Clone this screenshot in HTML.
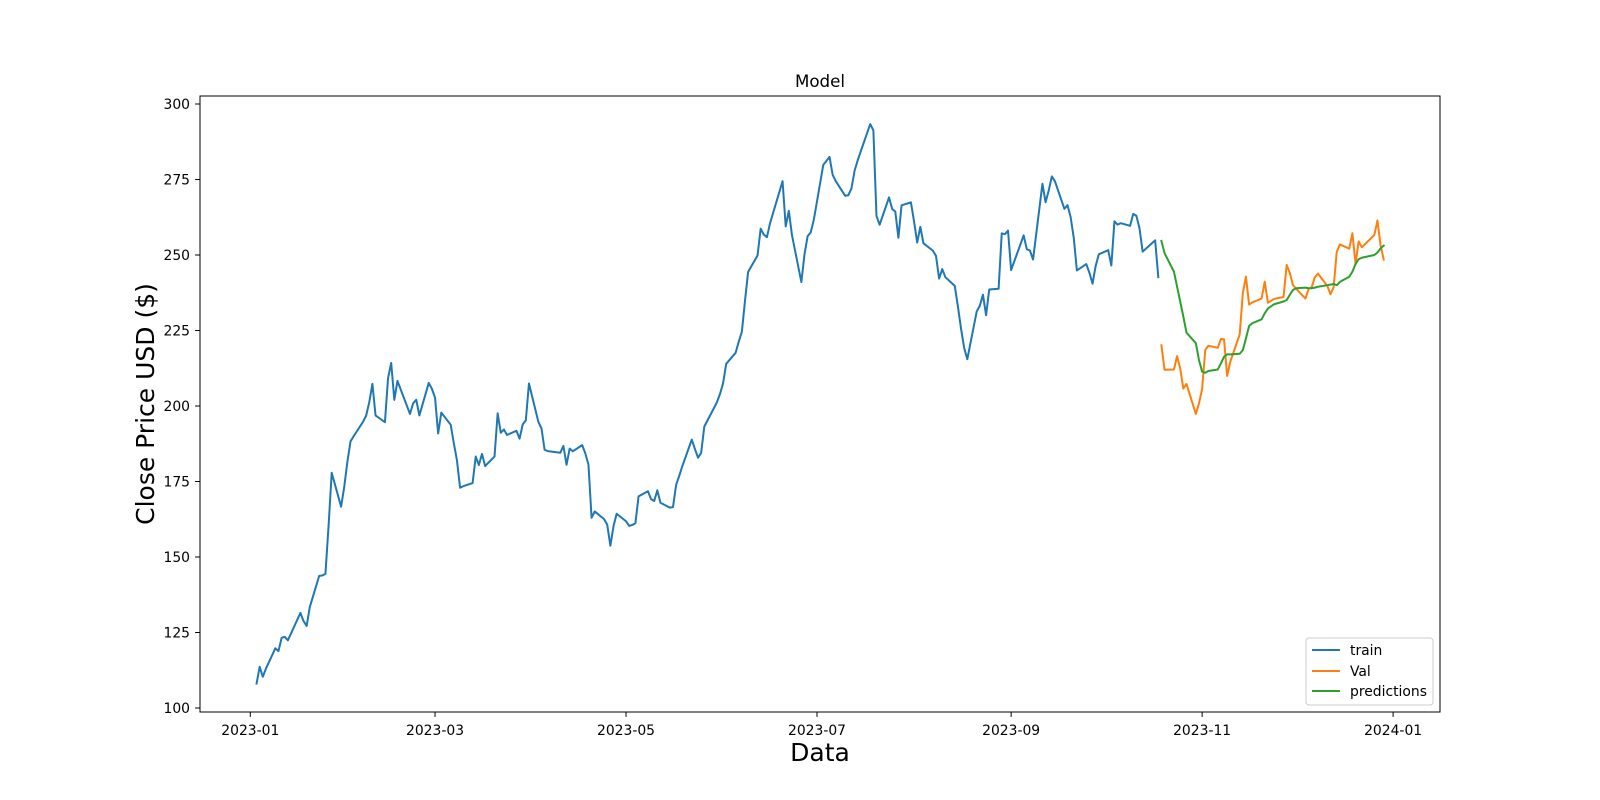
<!DOCTYPE html>
<html><head><meta charset="utf-8"><style>
html,body{margin:0;padding:0;background:#fff;}
svg{display:block;font-family:"DejaVu Sans","Liberation Sans",sans-serif;}
</style></head><body>
<svg id="chart" width="1600" height="800" viewBox="0 0 1600 800" xmlns="http://www.w3.org/2000/svg">
<rect x="0" y="0" width="1600" height="800" fill="#fff"/>
<g id="plot"></g>
<rect x="200" y="96" width="1240" height="616" fill="none" stroke="#000" stroke-width="1"/>
<g id="axes"></g>
<text x="820" y="87" text-anchor="middle" font-size="16.7">Model</text>
<text x="820" y="761" text-anchor="middle" font-size="25">Data</text>
<text transform="translate(154,404) rotate(-90)" text-anchor="middle" font-size="25">Close Price USD ($)</text>
<g>
<rect x="1306" y="638" width="127" height="67" rx="3" fill="#fff" fill-opacity="0.8" stroke="#ccc" stroke-width="1"/>
<line x1="1312" y1="650" x2="1340" y2="650" stroke="#1f77b4" stroke-width="2"/>
<text x="1350" y="655" font-size="13.9">train</text>
<line x1="1312" y1="671" x2="1340" y2="671" stroke="#ff7f0e" stroke-width="2"/>
<text x="1350" y="676" font-size="13.9">Val</text>
<line x1="1312" y1="691" x2="1340" y2="691" stroke="#2ca02c" stroke-width="2"/>
<text x="1350" y="696" font-size="13.9">predictions</text>
</g>
</svg>
<script>
const trainDates = ["2023-01-03","2023-01-04","2023-01-05","2023-01-06","2023-01-09","2023-01-10","2023-01-11","2023-01-12","2023-01-13","2023-01-17","2023-01-18","2023-01-19","2023-01-20","2023-01-23","2023-01-24","2023-01-25","2023-01-26","2023-01-27","2023-01-30","2023-01-31",
"2023-02-01","2023-02-02","2023-02-03","2023-02-06","2023-02-07","2023-02-08","2023-02-09","2023-02-10","2023-02-13","2023-02-14","2023-02-15","2023-02-16","2023-02-17","2023-02-21","2023-02-22","2023-02-23","2023-02-24","2023-02-27","2023-02-28",
"2023-03-01","2023-03-02","2023-03-03","2023-03-06","2023-03-07","2023-03-08","2023-03-09","2023-03-10","2023-03-13","2023-03-14","2023-03-15","2023-03-16","2023-03-17","2023-03-20","2023-03-21","2023-03-22","2023-03-23","2023-03-24","2023-03-27","2023-03-28","2023-03-29","2023-03-30","2023-03-31",
"2023-04-03","2023-04-04","2023-04-05","2023-04-06","2023-04-10","2023-04-11","2023-04-12","2023-04-13","2023-04-14","2023-04-17","2023-04-18","2023-04-19","2023-04-20","2023-04-21","2023-04-24","2023-04-25","2023-04-26","2023-04-27","2023-04-28",
"2023-05-01","2023-05-02","2023-05-03","2023-05-04","2023-05-05","2023-05-08","2023-05-09","2023-05-10","2023-05-11","2023-05-12","2023-05-15","2023-05-16","2023-05-17","2023-05-18","2023-05-19","2023-05-22","2023-05-23","2023-05-24","2023-05-25","2023-05-26","2023-05-30","2023-05-31",
"2023-06-01","2023-06-02","2023-06-05","2023-06-06","2023-06-07","2023-06-08","2023-06-09","2023-06-12","2023-06-13","2023-06-14","2023-06-15","2023-06-16","2023-06-20","2023-06-21","2023-06-22","2023-06-23","2023-06-26","2023-06-27","2023-06-28","2023-06-29","2023-06-30",
"2023-07-03","2023-07-05","2023-07-06","2023-07-07","2023-07-10","2023-07-11","2023-07-12","2023-07-13","2023-07-14","2023-07-17","2023-07-18","2023-07-19","2023-07-20","2023-07-21","2023-07-24","2023-07-25","2023-07-26","2023-07-27","2023-07-28","2023-07-31",
"2023-08-01","2023-08-02","2023-08-03","2023-08-04","2023-08-07","2023-08-08","2023-08-09","2023-08-10","2023-08-11","2023-08-14","2023-08-15","2023-08-16","2023-08-17","2023-08-18","2023-08-21","2023-08-22","2023-08-23","2023-08-24","2023-08-25","2023-08-28","2023-08-29","2023-08-30","2023-08-31",
"2023-09-01","2023-09-05","2023-09-06","2023-09-07","2023-09-08","2023-09-11","2023-09-12","2023-09-13","2023-09-14","2023-09-15","2023-09-18","2023-09-19","2023-09-20","2023-09-21","2023-09-22","2023-09-25","2023-09-26","2023-09-27","2023-09-28","2023-09-29",
"2023-10-02","2023-10-03","2023-10-04","2023-10-05","2023-10-06","2023-10-09","2023-10-10","2023-10-11","2023-10-12","2023-10-13","2023-10-16","2023-10-17","2023-10-18"];
const trainValues = [108.10,113.64,110.34,113.06,119.77,118.85,123.22,123.56,122.40,131.49,128.78,127.17,133.42,143.75,143.89,144.43,160.27,177.90,166.66,173.22,
181.41,188.27,189.98,194.76,196.81,201.29,207.32,196.89,194.64,209.25,214.24,202.04,208.31,197.37,200.86,202.07,196.88,207.63,205.71,
202.77,190.90,197.79,193.81,187.71,182.00,172.92,173.44,174.48,183.26,180.45,184.13,180.13,183.25,197.58,191.15,192.22,190.41,191.81,189.19,193.88,195.28,207.46,
194.77,192.58,185.52,185.06,184.51,186.79,180.54,185.90,185.00,187.04,184.31,180.59,162.99,165.08,162.55,160.67,153.75,160.19,164.31,
161.83,160.31,160.61,161.20,170.06,171.79,169.15,168.54,172.08,167.98,166.35,166.52,173.86,176.89,180.14,188.87,185.77,182.90,184.47,193.17,201.16,203.93,
207.52,213.97,217.61,221.31,224.57,234.86,244.40,249.83,258.71,256.79,255.90,260.54,274.45,259.46,264.61,256.60,241.05,250.21,256.24,257.50,261.77,
279.82,282.48,276.54,274.43,269.61,269.79,271.99,277.90,281.38,290.38,293.34,291.26,262.90,260.02,269.06,265.28,264.35,255.71,266.44,267.43,
261.07,254.11,259.32,253.86,251.45,249.70,242.19,245.34,242.65,239.76,232.96,225.60,219.22,215.49,231.28,233.19,236.86,230.04,238.59,238.82,257.18,256.90,258.08,
245.01,256.49,251.92,251.49,248.50,273.58,267.48,271.30,276.04,274.39,265.28,266.50,262.59,255.70,244.88,246.99,244.12,240.50,246.38,250.22,
251.60,246.53,261.16,260.05,260.53,259.67,263.62,262.99,258.87,251.12,253.92,254.85,242.68];
const valDates = ["2023-10-19","2023-10-20","2023-10-23","2023-10-24","2023-10-25","2023-10-26","2023-10-27","2023-10-30","2023-10-31",
"2023-11-01","2023-11-02","2023-11-03","2023-11-06","2023-11-07","2023-11-08","2023-11-09","2023-11-10","2023-11-13","2023-11-14","2023-11-15","2023-11-16","2023-11-17","2023-11-20","2023-11-21","2023-11-22","2023-11-24","2023-11-27","2023-11-28","2023-11-29","2023-11-30",
"2023-12-01","2023-12-04","2023-12-05","2023-12-06","2023-12-07","2023-12-08","2023-12-11","2023-12-12","2023-12-13","2023-12-14","2023-12-15","2023-12-18","2023-12-19","2023-12-20","2023-12-21","2023-12-22","2023-12-26","2023-12-27","2023-12-28","2023-12-29"];
const valValues = [220.11,211.99,212.08,216.52,212.42,205.76,207.30,197.36,200.84,
205.66,218.51,219.96,219.27,222.18,222.11,209.98,214.65,223.71,237.41,242.84,233.59,234.30,235.60,241.20,234.21,235.45,236.08,246.72,244.14,240.08,
238.83,235.58,238.72,239.37,242.64,243.84,239.74,237.01,239.29,251.05,253.50,252.08,257.22,247.14,254.50,252.54,256.61,261.44,253.18,248.48];
const predValues = [254.7,250.6,244.5,239.5,234.6,229.6,224.3,220.8,215.2,
211.4,211.0,211.6,212.1,214.1,216.3,217.1,217.1,217.3,218.5,222.4,226.5,227.4,228.7,230.7,232.3,233.7,234.6,235.1,236.8,238.4,
239.0,239.2,239.0,239.0,239.2,239.5,240.0,240.2,240.4,240.0,241.1,242.8,244.5,247.0,248.6,249.1,250.0,250.8,252.2,253.1];
const yTicks = [100,125,150,175,200,225,250,275,300];
const xTickLabels = ["2023-01","2023-03","2023-05","2023-07","2023-09","2023-11","2024-01"];

const NS = "http://www.w3.org/2000/svg";
const t0 = Date.UTC(2023,0,1);
function dayOf(s){const p=s.split("-");return (Date.UTC(+p[0],+p[1]-1,+(p[2]||1))-t0)/86400000;}
function xScale(s){return 250.3 + dayOf(s)*3.131;}
function yScale(v){return 104 + (300 - v)*3.02;}
const plot = document.getElementById("plot");
const axes = document.getElementById("axes");
function mk(tag, attrs){const e=document.createElementNS(NS,tag);for(const k in attrs)e.setAttribute(k,attrs[k]);return e;}
function line(dates, vals, color, name){
  let d = "";
  for(let i=0;i<vals.length;i++){d += (i?"L":"M") + xScale(dates[i]).toFixed(2) + "," + yScale(vals[i]).toFixed(2);}
  const p = mk("path",{d:d,fill:"none",stroke:color,"stroke-width":"2","stroke-linejoin":"round","stroke-linecap":"square"});
  
  
  plot.appendChild(p);
}
line(trainDates, trainValues, "#1f77b4", "train-line");
line(valDates, valValues, "#ff7f0e", "val-line");
line(valDates, predValues, "#2ca02c", "predictions-line");
yTicks.forEach(v=>{
  const y = yScale(v);
  const tk = mk("line",{x1:200,x2:195.1,y1:y,y2:y,stroke:"#000","stroke-width":"1"});
  
  
  axes.appendChild(tk);
  const tx = mk("text",{x:190,y:y+5,"text-anchor":"end","font-size":"13.9"});
  
  
  tx.textContent = v;
  axes.appendChild(tx);
});
xTickLabels.forEach(s=>{
  const x = xScale(s);
  const tk = mk("line",{x1:x,x2:x,y1:712,y2:716.9,stroke:"#000","stroke-width":"1"});
  
  
  axes.appendChild(tk);
  const tx = mk("text",{x:x,y:735,"text-anchor":"middle","font-size":"13.9"});
  
  
  tx.textContent = s;
  axes.appendChild(tx);
});
</script>
</body></html>
